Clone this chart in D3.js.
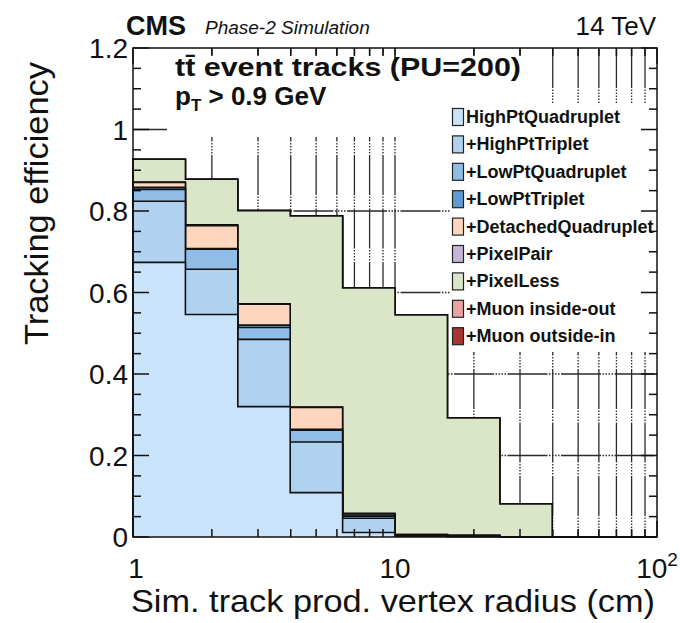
<!DOCTYPE html>
<html lang="en">
  <head>
    <meta charset="UTF-8" />
    <title>Tracking efficiency vs vertex radius</title>
    <style>
      body { margin: 0; background: #fff; }
      svg { display: block; }
      text { font-family: "Liberation Sans", Arial, Helvetica, sans-serif; fill: #111; }
    </style>
  </head>
  <body>
    <script src="https://d3js.org/d3.v7.min.js"></script>
    <script>

// bin edges (log, 5 per decade) and cumulative efficiency after each iteration
var binEdges = [1, 1.585, 2.512, 3.981, 6.310, 10, 15.85, 25.12, 39.81, 63.10, 100];

var highPtQuad  = [0.674, 0.546, 0.320, 0.109, 0.011, 0.002, 0.001, 0, 0, 0];
var highPtTrip  = [0.824, 0.657, 0.485, 0.233, 0.046, 0.004, 0.002, 0, 0, 0];
var lowPtQuad   = [0.853, 0.706, 0.514, 0.262, 0.051, 0.005, 0.003, 0, 0, 0];
var lowPtTrip   = [0.858, 0.708, 0.520, 0.264, 0.054, 0.005, 0.003, 0, 0, 0];
var detachedQ   = [0.870, 0.764, 0.571, 0.318, 0.057, 0.006, 0.004, 0, 0, 0];
var pixelPair   = [0.871, 0.766, 0.572, 0.319, 0.058, 0.006, 0.004, 0, 0, 0];
var pixelLess   = [0.927, 0.878, 0.801, 0.788, 0.611, 0.545, 0.292, 0.081, 0, 0];
var muonInOut   = [0.927, 0.878, 0.801, 0.788, 0.611, 0.545, 0.292, 0.081, 0, 0];
var muonOutIn   = [0.927, 0.878, 0.801, 0.788, 0.611, 0.545, 0.292, 0.081, 0, 0];

var seriesNames = ["HighPtQuadruplet", "+HighPtTriplet", "+LowPtQuadruplet", "+LowPtTriplet",
  "+DetachedQuadruplet", "+PixelPair", "+PixelLess", "+Muon inside-out", "+Muon outside-in"];
var seriesValues = [highPtQuad, highPtTrip, lowPtQuad, lowPtTrip, detachedQ, pixelPair, pixelLess, muonInOut, muonOutIn];
var seriesColors = ["#c9e4fa", "#b1d2ef", "#8fbde8", "#5f9cd3", "#fdd6bd", "#c6b5d6", "#dbe6c8", "#eaa3a2", "#a93434"];

var yTickLabels = ["0", "0.2", "0.4", "0.6", "0.8", "1", "1.2"];

var W = 680, H = 623;
var pL = 133, pR = 657, pT = 48, pB = 537;

var svg = d3.select("body").append("svg")
  .attr("width", W).attr("height", H);

svg.append("rect").attr("width", W).attr("height", H).attr("fill", "#fff");

var x = d3.scaleLog().domain([1, 100]).range([pL, pR]);
var y = d3.scaleLinear().domain([0, 1.2]).range([pB, pT]);

// grid (ROOT-ish dark dashed lines)
var gridDash = "40,1.5,1.5,1.5,1.5,1.5,1.5,1.5,1.5,1.5";
var grid = svg.append("g").attr("stroke", "#2a2a2a").attr("stroke-width", 1.3).attr("stroke-dasharray", gridDash);
x.ticks().filter(function(t){ return t > 1 && t < 100; }).forEach(function(t){
  grid.append("line").attr("x1", x(t)).attr("x2", x(t)).attr("y1", pT).attr("y2", pB);
});
d3.range(1, 6).map(function(i){ return i * 0.2; }).forEach(function(t){
  grid.append("line").attr("x1", pL).attr("x2", pR).attr("y1", y(t)).attr("y2", y(t));
});

// stacked histograms, drawn from the outermost down
function stepPoints(vals) {
  var pts = [[binEdges[0], 0]];
  vals.forEach(function(v, i){
    pts.push([binEdges[i], v]);
    pts.push([binEdges[i + 1], v]);
  });
  pts.push([binEdges[binEdges.length - 1], 0]);
  return pts;
}
var line = d3.line().x(function(d){ return x(d[0]); }).y(function(d){ return y(d[1]); });

for (var s = seriesValues.length - 1; s >= 0; s--) {
  var pts = stepPoints(seriesValues[s]);
  svg.append("path").attr("d", line(pts) + "Z")
    .attr("fill", seriesColors[s]).attr("stroke", "none");
  svg.append("path").attr("d", line(pts))
    .attr("fill", "none").attr("stroke", "#111").attr("stroke-width", 1.6)
    .attr("stroke-linejoin", "miter");
}

// text box
svg.append("rect").attr("x", 167).attr("y", 55).attr("width", 373).attr("height", 82).attr("fill", "#fff");
svg.append("text").attr("x", 175).attr("y", 76)
  .attr("font-size", 26).attr("font-weight", "bold")
  .attr("textLength", 346).attr("lengthAdjust", "spacingAndGlyphs")
  .text("tt\u0304 event tracks (PU=200)");
var ptxt = svg.append("text").attr("x", 175).attr("y", 105)
  .attr("font-size", 26).attr("font-weight", "bold");
ptxt.append("tspan").text("p");
ptxt.append("tspan").attr("font-size", 17).attr("dy", 6).text("T");
ptxt.append("tspan").attr("dy", -6).text(" > 0.9 GeV");

// legend
svg.append("rect").attr("x", 450).attr("y", 103).attr("width", 207).attr("height", 249).attr("fill", "#fff");
var leg = svg.append("g");
seriesNames.forEach(function(name, i){
  var cy = 117 + i * 27.4;
  leg.append("rect").attr("x", 452.5).attr("y", cy - 8.5).attr("width", 11).attr("height", 17)
    .attr("fill", seriesColors[i]).attr("stroke", "#222").attr("stroke-width", 1.2);
  leg.append("text").attr("x", 466).attr("y", cy + 6)
    .attr("font-size", 18).attr("font-weight", "bold")
    .text(name);
});

// frame and ticks
var axes = svg.append("g").attr("stroke", "#111").attr("stroke-width", 1.5);
axes.append("rect").attr("x", pL).attr("y", pT).attr("width", pR - pL).attr("height", pB - pT)
  .attr("fill", "none");
x.ticks().forEach(function(t){
  var len = (t === 1 || t === 10 || t === 100) ? 16 : 8;
  axes.append("line").attr("x1", x(t)).attr("x2", x(t)).attr("y1", pB).attr("y2", pB - len);
  axes.append("line").attr("x1", x(t)).attr("x2", x(t)).attr("y1", pT).attr("y2", pT + len);
});
d3.ticks(0, 1.2, 24).forEach(function(t, i){
  var len = (i % 4 === 0) ? 16 : 8;
  axes.append("line").attr("x1", pL).attr("x2", pL + len).attr("y1", y(t)).attr("y2", y(t));
  axes.append("line").attr("x1", pR).attr("x2", pR - len).attr("y1", y(t)).attr("y2", y(t));
});

// tick labels
yTickLabels.forEach(function(lbl){
  svg.append("text").attr("x", 128).attr("y", y(+lbl) + 10)
    .attr("text-anchor", "end").attr("font-size", 28).text(lbl);
});
svg.append("text").attr("x", x(1) + 3).attr("y", 578).attr("text-anchor", "middle").attr("font-size", 28).text("1");
svg.append("text").attr("x", x(10)).attr("y", 578).attr("text-anchor", "middle").attr("font-size", 28).text("10");
var hundred = svg.append("text").attr("x", x(100)).attr("y", 578).attr("text-anchor", "middle").attr("font-size", 28);
hundred.append("tspan").text("10");
hundred.append("tspan").attr("font-size", 19).attr("dy", -12).text("2");

// axis titles
svg.append("text").attr("x", 655).attr("y", 612).attr("text-anchor", "end")
  .attr("font-size", 32).attr("textLength", 524).attr("lengthAdjust", "spacingAndGlyphs")
  .text("Sim. track prod. vertex radius (cm)");
svg.append("text").attr("transform", "translate(48,62) rotate(-90)").attr("text-anchor", "end")
  .attr("font-size", 33).attr("textLength", 283).attr("lengthAdjust", "spacingAndGlyphs")
  .text("Tracking efficiency");

// header
svg.append("text").attr("x", 126).attr("y", 35).attr("font-size", 27).attr("font-weight", "bold").text("CMS");
svg.append("text").attr("x", 205).attr("y", 34).attr("font-size", 19).attr("font-style", "italic").text("Phase-2 Simulation");
svg.append("text").attr("x", 656).attr("y", 35).attr("text-anchor", "end").attr("font-size", 26).text("14 TeV");

    </script>
  </body>
</html>
